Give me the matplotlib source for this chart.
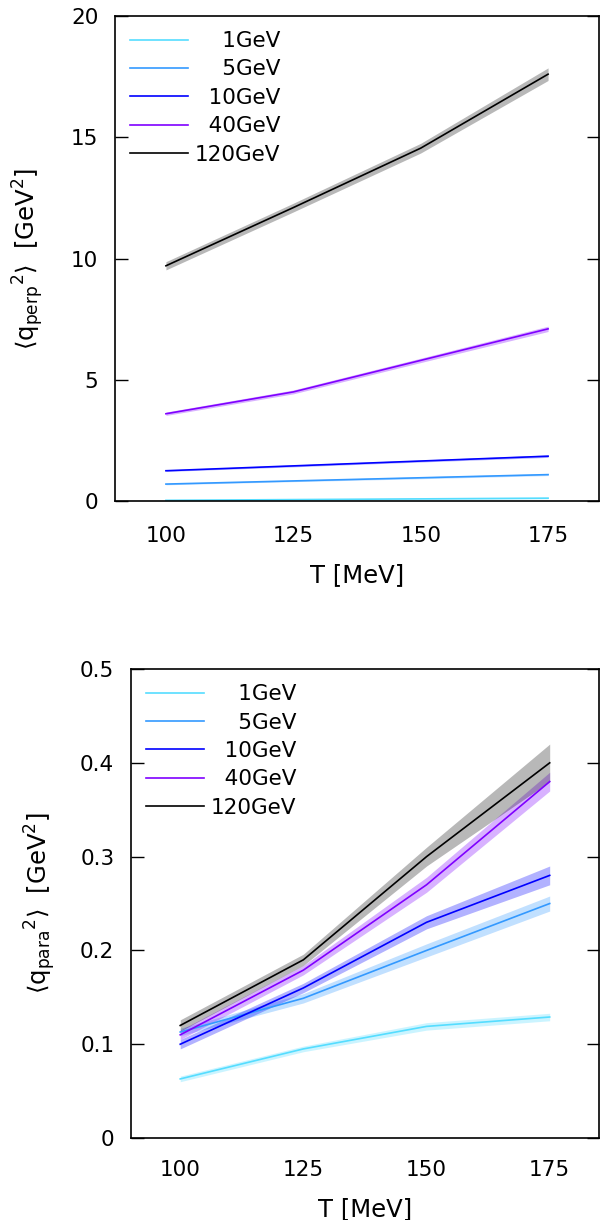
import matplotlib.pyplot as plt
import numpy as np

# temperatures (MeV)
T = [100, 125, 150, 175]

labels = ['1GeV', '5GeV', '10GeV', '40GeV', '120GeV']
colors = ['#55ddff', '#3399ff', '#0000ff', '#7f00ff', '#000000']

# <q_perp^2> [GeV^2] and error half widths
qperp_1 = [0.03, 0.06, 0.09, 0.12]
qperp_5 = [0.70, 0.83, 0.96, 1.09]
qperp_10 = [1.25, 1.45, 1.65, 1.85]
qperp_40 = [3.60, 4.50, 5.80, 7.10]
qperp_120 = [9.70, 12.10, 14.55, 17.60]
qperp_err_1 = [0.02, 0.02, 0.03, 0.03]
qperp_err_5 = [0.03, 0.03, 0.04, 0.04]
qperp_err_10 = [0.03, 0.04, 0.04, 0.05]
qperp_err_40 = [0.07, 0.08, 0.09, 0.11]
qperp_err_120 = [0.17, 0.18, 0.20, 0.26]

# <q_para^2> [GeV^2] and error half widths
qpara_1 = [0.063, 0.095, 0.119, 0.129]
qpara_5 = [0.113, 0.149, 0.200, 0.250]
qpara_10 = [0.100, 0.160, 0.230, 0.280]
qpara_40 = [0.110, 0.179, 0.270, 0.380]
qpara_120 = [0.120, 0.190, 0.300, 0.400]
qpara_err_1 = [0.003, 0.003, 0.004, 0.004]
qpara_err_5 = [0.004, 0.005, 0.007, 0.008]
qpara_err_10 = [0.005, 0.005, 0.007, 0.010]
qpara_err_40 = [0.005, 0.005, 0.008, 0.010]
qpara_err_120 = [0.006, 0.006, 0.010, 0.020]

perp = [qperp_1, qperp_5, qperp_10, qperp_40, qperp_120]
perp_err = [qperp_err_1, qperp_err_5, qperp_err_10, qperp_err_40, qperp_err_120]
para = [qpara_1, qpara_5, qpara_10, qpara_40, qpara_120]
para_err = [qpara_err_1, qpara_err_5, qpara_err_10, qpara_err_40, qpara_err_120]

plt.rcParams['font.family'] = ['DejaVu Sans']
plt.rcParams['font.size'] = 15
plt.rcParams['mathtext.fontset'] = 'dejavusans'

fig = plt.figure(figsize=(6.03, 12.2), dpi=100)
ax1 = fig.add_axes([0.1907, 0.5893, 0.8027, 0.3976])
ax2 = fig.add_axes([0.2172, 0.0672, 0.7761, 0.3844])


def draw(ax, ys, errs, ylim, yticks, ylabel, ylabelpad, xpad):
    x = np.array(T)
    for y, e, c, lab in zip(ys, errs, colors, labels):
        y = np.array(y)
        e = np.array(e)
        ax.fill_between(x, y - e, y + e, color=c, alpha=0.3 if c != '#000000' else 0.28,
                        linewidth=0)
        # pad with figure spaces so labels end up right aligned
        ax.plot(x, y, color=c, linewidth=1.2, label='\u2007' * (6 - len(lab)) + lab)
    ax.set_xlim(90, 185)
    ax.set_ylim(*ylim)
    ax.set_xticks(T)
    ax.set_yticks(yticks)
    ax.tick_params(axis='x', length=0, pad=xpad, labelsize=15.5)
    ax.tick_params(axis='y', direction='in', length=9, width=1, right=True, pad=12,
                   labelsize=15.5)
    for s in ax.spines.values():
        s.set_linewidth(1.2)
    ax.set_xlabel('T [MeV]', labelpad=12, fontsize=17.5)
    ax.set_ylabel(ylabel, labelpad=ylabelpad, fontsize=17.5)
    ax.legend(loc='upper left', frameon=False, handlelength=2.7, labelspacing=0.39,
              handletextpad=0.3, borderaxespad=0.3, fontsize=15.5)


draw(ax1, perp, perp_err, (0, 20), [0, 5, 10, 15, 20],
     r'$\langle$q$_{\mathrm{perp}}$$^2\rangle$  [GeV$^2$]', 18, 18)
draw(ax2, para, para_err, (0, 0.5), [0, 0.1, 0.2, 0.3, 0.4, 0.5],
     r'$\langle$q$_{\mathrm{para}}$$^2\rangle$  [GeV$^2$]', 16, 16)
ax2.set_yticklabels(['0', '0.1', '0.2', '0.3', '0.4', '0.5'])

fig.savefig('out.png', dpi=100)
